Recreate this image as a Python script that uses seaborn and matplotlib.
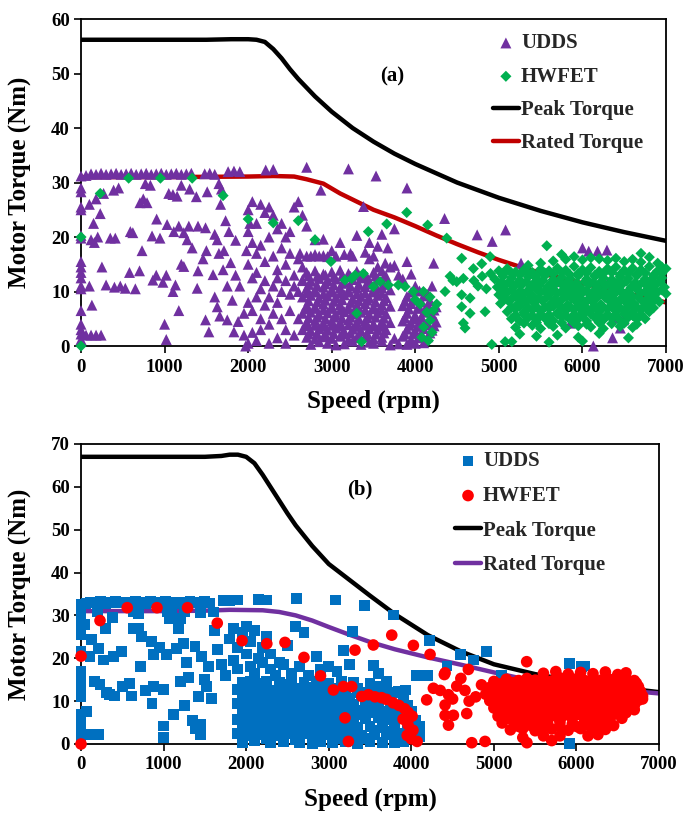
import matplotlib
matplotlib.use("Agg")
import matplotlib.pyplot as plt
import seaborn as sns
import pandas as pd

# ---------------------------------------------------------------- data
# (a) motor envelope curves
env_a_rpm = [0, 500, 1000, 1500, 1800, 2000, 2100, 2200, 2300, 2400, 2500, 2600, 2800,
             3000, 3250, 3500, 3750, 4000, 4500, 5000, 5500, 6000, 6500, 7000]
peak_a_nm = [56.2, 56.2, 56.2, 56.2, 56.3, 56.3, 56.2, 55.8, 54.5, 52.8, 50.8, 49.0, 45.8,
             43.0, 40.0, 37.5, 35.3, 33.4, 30.0, 27.2, 24.8, 22.7, 20.9, 19.3]
rated_a_rpm = [0, 1000, 2000, 2300, 2550, 2700, 2900, 3100, 3300, 3500, 3750, 4000, 4250,
               4500, 4750, 5000, 5300, 5600, 6000, 6500, 7000]
rated_a_nm = [31.0, 31.0, 31.1, 31.2, 31.1, 30.6, 29.8, 28.0, 26.5, 25.0, 23.6, 22.0, 20.3,
              18.7, 17.2, 15.8, 14.3, 13.0, 11.5, 9.8, 8.0]

# (b) motor envelope curves
peak_b_rpm = [0, 500, 1000, 1500, 1700, 1800, 1900, 2000, 2100, 2200, 2300, 2400, 2500,
              2600, 2800, 3000, 3250, 3500, 3800, 4200, 4600, 5000, 5500, 6000, 6500, 7000]
peak_b_nm = [67.0, 67.0, 67.0, 67.0, 67.2, 67.5, 67.5, 67.0, 65.5, 62.8, 59.8, 56.8, 53.8,
             51.0, 46.2, 42.0, 38.3, 34.6, 30.3, 25.4, 21.6, 18.6, 16.3, 14.6, 13.2, 12.1]
rated_b_rpm = [0, 1000, 1500, 1800, 2200, 2400, 2600, 2800, 3000, 3250, 3500, 3800, 4200,
               4600, 5000, 5400, 5800, 6400, 7000]
rated_b_nm = [31.0, 31.0, 31.1, 31.3, 31.2, 30.8, 30.0, 28.8, 27.3, 25.5, 23.8, 22.1, 20.2,
              18.5, 16.7, 15.0, 13.9, 12.8, 11.8]

# (a) UDDS operating points (rpm, Nm)
udds_a = [
    (0, 31.2), (0, 29.0), (0, 28.3), (0, 25.5), (0, 25.0), (0, 20.3), (0, 19.8), (0, 15.5),
    (0, 14.5), (0, 13.5), (0, 12.5), (0, 11.0), (0, 10.5), (0, 6.5), (0, 4.0), (0, 3.0),
    (0, 2.2), (0, 1.2),
    (60, 31.3), (120, 31.6), (180, 31.5), (240, 31.7), (300, 31.5), (360, 31.6), (420, 31.7),
    (480, 31.5), (540, 31.6), (600, 31.7), (660, 31.5), (720, 31.6), (780, 31.7), (840, 31.5),
    (900, 31.6), (960, 31.7), (1020, 31.5), (1080, 31.6), (1140, 31.7), (1200, 31.5),
    (1260, 31.6), (1320, 31.7), (1480, 31.6), (1540, 31.7), (1600, 31.5), (1760, 32.0),
    (1830, 32.1), (1900, 32.0), (2210, 32.3), (2300, 32.4), (2700, 32.8), (3200, 32.5),
    (3530, 31.2), (3900, 29.0), (2870, 28.6), (3380, 25.6),
    (100, 26.0), (180, 27.0), (270, 28.0), (390, 28.6), (450, 29.0), (150, 22.5), (230, 24.3),
    (120, 19.5), (200, 20.0), (160, 19.0), (250, 14.5), (100, 11.0), (130, 7.5), (60, 2.0),
    (120, 2.0), (180, 2.0), (240, 2.0), (350, 19.8), (410, 19.8), (590, 21.0), (530, 10.6),
    (470, 11.0), (580, 13.5), (730, 17.5), (905, 23.3), (860, 12.1), (980, 11.7), (1000, 4.0),
    (1020, 1.2), (945, 19.8), (745, 27.0), (705, 26.3), (790, 26.3), (1030, 22.3), (1110, 21.0),
    (1170, 22.0), (1150, 27.5), (1290, 22.0), (1330, 18.0), (1230, 14.6), (1130, 11.2),
    (1170, 6.5), (1390, 10.6), (1510, 28.3), (1490, 21.7), (1630, 19.5), (1460, 16.0),
    (1580, 13.1), (1630, 7.2), (1490, 4.8), (1530, 2.6), (1670, 26.0), (1730, 23.0),
    (1770, 21.0), (1710, 17.5), (1790, 15.3), (1850, 19.4), (1850, 13.0), (1810, 8.4),
    (1750, 4.8), (1830, 2.6), (770, 29.8), (830, 29.5), (1200, 29.5), (1300, 28.8),
    (1100, 27.8), (1650, 29.8), (1680, 28.8), (1050, 28.0), (1380, 27.4), (620, 20.8),
    (850, 20.2), (1230, 20.8), (1400, 22.0), (900, 13.0), (1200, 15.0), (1500, 17.5),
    (1600, 20.5), (1650, 17.0), (1700, 14.0), (1750, 11.0), (1600, 9.0), (1660, 5.5),
    (1900, 11.0), (1950, 6.0), (1880, 4.5), (1950, 2.0), (2000, 0.5), (1970, 0.0), (300, 11.2),
    (400, 10.8), (650, 10.5), (700, 13.8), (1020, 13.0), (1100, 10.0), (1270, 19.5), (1400, 13.8),
    (2000, 25.0), (2050, 26.5), (2100, 22.5), (2150, 26.0), (2200, 24.5), (2250, 25.5),
    (2300, 24.0), (2350, 21.5), (2400, 22.5), (2450, 20.0), (2500, 21.0), (2550, 25.5),
    (2600, 26.5), (2650, 24.0), (2700, 22.0), (2620, 17.0), (2000, 21.0), (2050, 19.0),
    (2100, 17.0), (2150, 18.5), (2200, 15.5), (2250, 20.0), (2300, 16.5), (2350, 14.0),
    (2400, 18.0), (2450, 15.0), (2500, 17.0), (2550, 13.0), (2600, 16.0), (2650, 14.5),
    (2700, 16.5), (2000, 15.0), (2050, 12.5), (2100, 13.5), (2150, 10.5), (2200, 12.0),
    (2250, 9.0), (2300, 11.0), (2350, 12.5), (2400, 10.0), (2450, 12.0), (2500, 9.5),
    (2550, 11.0), (2600, 10.0), (2650, 12.0), (2000, 8.0), (2050, 6.5), (2100, 9.0),
    (2150, 5.0), (2200, 7.5), (2250, 4.0), (2300, 6.0), (2350, 8.0), (2400, 5.0), (2450, 3.0),
    (2500, 6.5), (2550, 2.0), (2600, 5.0), (2050, 2.5), (2100, 1.0), (2150, 3.0), (2250, 0.5),
    (2350, 1.5), (2450, 0.5), (1980, 17.5), (2020, 22.5),
    (2750, 16.5), (2800, 16.8), (2850, 16.5), (2900, 16.6), (2950, 16.4), (3050, 16.5),
    (3150, 16.8), (3250, 16.5), (3400, 17.2), (3500, 16.5), (2800, 19.5), (2900, 19.6),
    (3000, 17.5), (3100, 19.0), (3300, 20.3), (3450, 19.0), (3550, 18.3), (3600, 20.5),
    (3670, 18.0), (3700, 14.5), (3800, 13.0), (3900, 15.5), (3950, 13.2), (4000, 11.0),
    (3750, 21.5), (3225, 17.0), (3640, 15.2), (4220, 15.2), (4350, 23.4), (4740, 20.4),
    (4920, 19.2), (5080, 21.3),
    (2700, 13.5), (2800, 13.8), (2900, 13.2), (3000, 13.6), (3100, 13.9), (3200, 13.3),
    (3300, 13.7), (3400, 13.1), (3500, 13.5), (3600, 13.8), (3650, 12.8),
    (2650, 12.2), (2750, 11.9), (2850, 12.4), (2950, 12.0), (3050, 12.3), (3150, 11.8),
    (3250, 12.2), (3350, 12.5), (3450, 11.9), (3550, 12.3),
    (2700, 10.6), (2800, 10.3), (2900, 10.8), (3000, 10.4), (3100, 10.7), (3200, 10.2),
    (3300, 10.6), (3400, 10.9), (3500, 10.4), (3600, 10.7), (3700, 10.3),
    (2650, 9.0), (2750, 9.3), (2850, 8.8), (2950, 9.2), (3050, 8.9), (3150, 9.4), (3250, 8.7),
    (3350, 9.1), (3450, 8.8), (3550, 9.3), (3650, 8.9), (3900, 9.1), (4000, 8.6), (4100, 9.2),
    (2700, 7.5), (2800, 7.2), (2900, 7.7), (3000, 7.3), (3100, 7.6), (3200, 7.1), (3300, 7.5),
    (3400, 7.8), (3500, 7.2), (3600, 7.6), (3700, 7.3), (3850, 7.4), (3950, 7.8), (4050, 7.1),
    (4150, 7.6), (4250, 7.2),
    (2650, 6.0), (2750, 6.2), (2850, 5.8), (2950, 6.1), (3050, 5.7), (3150, 6.3), (3250, 5.9),
    (3350, 6.2), (3450, 5.8), (3550, 6.1), (3650, 5.9), (3900, 6.0), (4000, 5.6), (4100, 6.2),
    (4200, 5.8),
    (2700, 4.4), (2800, 4.7), (2900, 4.2), (3000, 4.6), (3100, 4.3), (3200, 4.8), (3300, 4.4),
    (3400, 4.6), (3500, 4.1), (3600, 4.5), (3700, 4.3), (3850, 4.6), (3950, 4.2), (4050, 4.5),
    (4150, 4.1), (4250, 4.4),
    (2650, 3.0), (2750, 2.8), (2850, 3.2), (2950, 2.9), (3050, 3.3), (3150, 2.7), (3250, 3.1),
    (3350, 2.8), (3450, 3.2), (3550, 2.9), (3650, 3.0), (3900, 3.1), (4000, 2.7), (4100, 3.2),
    (4200, 2.9),
    (2700, 1.6), (2800, 1.3), (2900, 1.7), (3000, 1.4), (3100, 1.8), (3200, 1.2), (3300, 1.5),
    (3400, 1.7), (3500, 1.3), (3600, 1.6), (3750, 1.4), (3850, 1.8), (3950, 1.2), (4050, 1.5),
    (4150, 1.7),
    (2750, 0.3), (2950, 0.5), (3050, 0.2), (3150, 0.4), (3350, 0.3), (3500, 0.5), (3700, 0.2),
    (3800, 0.4), (3900, 0.3), (4000, 0.5),
    (2725, 12.9), (2825, 12.8), (2925, 13.0), (3025, 12.7), (3125, 12.9), (3225, 12.8),
    (3325, 13.0), (3425, 12.6), (3525, 12.9), (3625, 12.7),
    (2725, 11.3), (2825, 11.1), (2925, 11.4), (3025, 11.2), (3125, 11.5), (3225, 11.0),
    (3325, 11.3), (3425, 11.4), (3525, 11.1), (3625, 11.3),
    (2700, 9.8), (2800, 9.9), (2900, 9.6), (3000, 9.9), (3100, 9.7), (3200, 9.9), (3300, 9.6),
    (3400, 9.8), (3500, 9.9), (3600, 9.7), (3950, 9.9), (4050, 10.1),
    (2725, 8.3), (2825, 8.1), (2925, 8.4), (3025, 8.2), (3125, 8.5), (3225, 8.0), (3325, 8.3),
    (3425, 8.4), (3525, 8.1), (3625, 8.3), (3875, 8.2), (3975, 8.4), (4075, 8.1), (4175, 8.3),
    (2700, 6.8), (2800, 6.9), (2900, 6.7), (3000, 6.9), (3100, 6.6), (3200, 6.8), (3300, 6.9),
    (3400, 6.7), (3500, 6.8), (3600, 6.6), (3925, 6.8), (4025, 6.9), (4125, 6.7), (4225, 6.6),
    (2725, 5.2), (2825, 5.3), (2925, 5.0), (3025, 5.3), (3125, 5.1), (3225, 5.3), (3325, 5.0),
    (3425, 5.2), (3525, 5.3), (3625, 5.1), (3875, 5.2), (3975, 5.0), (4075, 5.3), (4175, 5.1),
    (2700, 3.7), (2800, 3.8), (2900, 3.6), (3000, 3.8), (3100, 3.7), (3200, 3.9), (3300, 3.6),
    (3400, 3.8), (3500, 3.7), (3600, 3.6), (3925, 3.8), (4025, 3.6), (4125, 3.9), (4225, 3.7),
    (2725, 2.2), (2825, 2.3), (2925, 2.1), (3025, 2.3), (3125, 2.2), (3225, 2.4), (3325, 2.1),
    (3425, 2.3), (3525, 2.2), (3625, 2.4), (3875, 2.2), (3975, 2.3), (4075, 2.1), (4175, 2.4),
    (2850, 0.8), (3250, 0.9), (3450, 0.7), (3600, 0.9), (3950, 0.8), (4100, 0.6),
    (3550, 14.5), (3750, 14.8), (3850, 12.3), (4150, 9.5), (4200, 11.0), (3450, 16.0),
    (5265, 15.2), (6000, 18.0), (6075, 17.4), (6180, 17.4), (6293, 17.6), (5735, 11.8),
    (6050, 10.3), (5945, 9.1), (6410, 5.2), (6465, 4.6), (6360, 1.5), (6130, 0.0),
    (6254, 10.6), (5854, 4.2), (6453, 3.3), (6493, 4.8), (5600, 11.0), (6300, 11.5),
]

# (a) HWFET operating points (rpm, Nm)
hwfet_a = [
    (0, 20.0), (0, 0.0), (230, 28.0), (570, 30.8), (950, 30.8), (1330, 30.8), (1700, 27.6),
    (2000, 23.3), (2300, 22.6), (2600, 23.0), (2800, 19.5), (3438, 21.0), (3658, 22.4),
    (3897, 24.5), (4148, 22.2), (4376, 19.8), (4895, 16.4), (5573, 18.4),
    (2990, 15.5), (3159, 12.1), (3239, 12.4), (3279, 13.0), (3378, 13.3), (3498, 10.9),
    (3578, 11.8), (3678, 11.2), (3797, 11.2), (3877, 10.9), (3977, 10.0), (3299, 6.0),
    (3358, 0.8), (4057, 7.7), (4137, 6.2), (4176, 4.7), (4216, 6.5), (4256, 7.7), (4097, 10.0),
    (4176, 9.0), (4077, 1.6), (4157, 1.0), (4000, 8.5), (4100, 3.5), (4200, 2.5),
    (4416, 12.8), (4495, 11.8), (4575, 12.4), (4356, 10.0), (4555, 9.4), (4655, 8.8),
    (4555, 7.2), (4655, 6.0), (4835, 6.3), (4575, 4.2), (4595, 3.3), (4915, 0.3), (5075, 0.8),
    (5155, 0.8), (4695, 14.2), (4795, 15.1), (4555, 16.1), (4700, 12.0), (4800, 12.8),
    (4900, 13.3), (4750, 11.0), (4850, 10.5), (4450, 12.0),
    (5350, 14.8), (5500, 15.2), (5650, 15.6), (5800, 15.9), (5900, 16.4), (6000, 15.8),
    (6100, 16.2), (6200, 16.0), (6300, 15.7), (6400, 16.1), (6500, 15.5), (6600, 15.9),
    (6700, 15.4), (6800, 16.3), (6900, 15.2), (6950, 14.5), (5750, 16.8), (6700, 17.0),
    (5000, 13.8), (5100, 14.2), (5200, 13.6), (5300, 14.0), (5400, 13.5), (5500, 14.1),
    (5600, 13.8), (5700, 14.3), (5800, 13.9), (5900, 14.6), (6000, 14.0), (6100, 14.4),
    (6200, 13.7), (6300, 14.2), (6400, 14.5), (6500, 13.9), (6600, 14.3), (6700, 14.0),
    (6800, 14.6), (6900, 13.8), (7000, 14.2),
    (4950, 12.3), (5050, 12.8), (5150, 12.5), (5250, 12.1), (5350, 12.7), (5450, 12.4),
    (5550, 12.9), (5650, 12.2), (5750, 12.6), (5850, 12.4), (5950, 12.9), (6050, 12.3),
    (6150, 12.8), (6250, 12.5), (6350, 12.2), (6450, 12.7), (6550, 12.4), (6650, 12.9),
    (6750, 12.3), (6850, 12.6), (6950, 12.5),
    (4980, 10.8), (5080, 11.2), (5180, 10.9), (5280, 11.3), (5380, 10.7), (5480, 11.1),
    (5580, 10.8), (5680, 11.4), (5780, 10.9), (5880, 11.2), (5980, 10.6), (6080, 11.3),
    (6180, 10.8), (6280, 11.1), (6380, 10.9), (6480, 11.4), (6580, 10.7), (6680, 11.2),
    (6780, 10.9), (6880, 11.3), (6980, 10.8),
    (5000, 9.4), (5100, 9.8), (5200, 9.2), (5300, 9.6), (5400, 9.3), (5500, 9.9), (5600, 9.4),
    (5700, 9.7), (5800, 9.1), (5900, 9.6), (6000, 9.8), (6100, 9.3), (6200, 9.7), (6300, 9.2),
    (6400, 9.8), (6500, 9.5), (6600, 9.1), (6700, 9.7), (6800, 9.4), (6900, 9.9), (7000, 9.6),
    (5020, 7.8), (5120, 8.2), (5220, 7.6), (5320, 8.1), (5420, 7.9), (5520, 8.3), (5620, 7.7),
    (5720, 8.0), (5820, 7.5), (5920, 8.2), (6020, 7.8), (6120, 8.1), (6220, 7.6), (6320, 8.3),
    (6420, 7.9), (6520, 8.0), (6620, 7.7), (6720, 8.2), (6820, 7.8), (6920, 8.1),
    (5100, 6.3), (5200, 6.8), (5300, 6.2), (5400, 6.6), (5500, 6.4), (5600, 6.9), (5700, 6.1),
    (5800, 6.5), (5900, 6.7), (6000, 6.2), (6100, 6.6), (6200, 6.3), (6300, 6.8), (6400, 6.4),
    (6500, 6.6), (6600, 6.1), (6700, 6.7), (6800, 6.3),
    (5150, 5.0), (5250, 4.6), (5350, 5.2), (5450, 4.8), (5550, 5.1), (5650, 4.7), (5750, 5.3),
    (5850, 4.9), (5950, 5.0), (6050, 4.6), (6150, 5.2), (6250, 4.8), (6350, 5.1), (6450, 4.7),
    (6550, 5.3), (6650, 4.9), (6750, 5.0),
    (5200, 3.4), (5400, 3.8), (5500, 3.2), (5650, 3.6), (5800, 3.3), (5950, 3.7), (6100, 3.5),
    (6250, 3.2), (6450, 3.6), (6600, 3.4),
    (5250, 2.2), (5450, 1.8), (5700, 2.0), (5950, 1.6), (6200, 2.3), (6550, 1.5), (5600, 0.7),
    (6000, 0.9),
    (5050, 13.2), (5150, 13.4), (5250, 13.1), (5350, 13.3), (5450, 13.0), (5550, 13.4),
    (5650, 13.2), (5750, 13.5), (5850, 13.1), (5950, 13.3), (6050, 13.4), (6150, 13.0),
    (6250, 13.3), (6350, 13.5), (6450, 13.1), (6550, 13.3), (6650, 13.2), (6750, 13.4),
    (6850, 13.0), (6950, 13.3),
    (5030, 11.7), (5130, 11.9), (5230, 11.6), (5330, 11.8), (5430, 11.7), (5530, 12.0),
    (5630, 11.6), (5730, 11.8), (5830, 11.9), (5930, 11.6), (6030, 11.8), (6130, 11.7),
    (6230, 11.9), (6330, 11.6), (6430, 11.8), (6530, 11.9), (6630, 11.6), (6730, 11.8),
    (6830, 11.7), (6930, 11.9),
    (5050, 10.2), (5150, 10.3), (5250, 10.0), (5350, 10.2), (5450, 10.4), (5550, 10.1),
    (5650, 10.3), (5750, 10.0), (5850, 10.2), (5950, 10.4), (6050, 10.1), (6150, 10.3),
    (6250, 10.0), (6350, 10.2), (6450, 10.3), (6550, 10.1), (6650, 10.4), (6750, 10.0),
    (6850, 10.2), (6950, 10.3),
    (5070, 8.7), (5170, 8.9), (5270, 8.6), (5370, 8.8), (5470, 8.7), (5570, 8.9), (5670, 8.6),
    (5770, 8.8), (5870, 8.7), (5970, 8.9), (6070, 8.6), (6170, 8.8), (6270, 8.9), (6370, 8.6),
    (6470, 8.8), (6570, 8.7), (6670, 8.9), (6770, 8.6), (6870, 8.8),
    (5150, 7.1), (5250, 7.3), (5350, 7.0), (5450, 7.2), (5550, 7.1), (5650, 7.3), (5750, 7.0),
    (5850, 7.2), (5950, 7.3), (6050, 7.0), (6150, 7.2), (6250, 7.1), (6350, 7.3), (6450, 7.0),
    (6550, 7.2), (6650, 7.1), (6750, 7.3), (6850, 7.0),
    (5200, 5.7), (5300, 5.8), (5400, 5.6), (5500, 5.8), (5600, 5.7), (5700, 5.9), (5800, 5.6),
    (5900, 5.8), (6000, 5.7), (6100, 5.9), (6200, 5.6), (6300, 5.8), (6400, 5.7), (6500, 5.9),
    (6600, 5.6), (6700, 5.8),
    (5300, 4.2), (5450, 4.3), (5600, 4.1), (5750, 4.3), (5900, 4.2), (6050, 4.0), (6200, 4.3),
    (6350, 4.1), (6500, 4.2), (6650, 4.0),
]

# (b) UDDS operating points (rpm, Nm)
udds_b = [
    (0, 32.5), (0, 30.0), (0, 27.8), (0, 25.5), (0, 21.5), (0, 17.0), (0, 15.5), (0, 14.0),
    (0, 12.0), (0, 11.0), (0, 7.0), (0, 4.5), (0, 3.0), (0, 1.5), (0, 0.5),
    (60, 32.8), (120, 33.1), (180, 32.9), (240, 33.2), (300, 32.8), (360, 33.0), (420, 33.3),
    (480, 32.9), (540, 33.1), (600, 32.8), (660, 33.2), (720, 33.0), (780, 32.8), (840, 33.2),
    (900, 33.0), (960, 32.9), (1020, 33.2), (1080, 33.0), (1140, 32.8), (1200, 33.1),
    (1260, 33.0), (1320, 33.2), (1380, 32.9), (1440, 33.1), (1500, 33.2), (1560, 32.9),
    (1720, 33.4), (1800, 33.5), (1900, 33.6), (2150, 33.7), (2250, 33.6), (2610, 34.0),
    (3080, 33.6), (3430, 32.4), (3780, 30.1),
    (200, 31.0), (640, 31.0), (700, 30.4), (1050, 31.0), (1100, 30.2), (1250, 31.0),
    (1450, 30.6), (1600, 30.8), (1200, 29.3), (48, 27.8), (129, 24.3), (109, 20.4), (210, 22.3),
    (270, 19.6), (390, 20.4), (490, 21.6), (715, 18.0), (590, 14.2), (735, 25.0), (855, 23.9),
    (955, 22.5), (1077, 29.3), (1180, 26.9), (1240, 23.5), (1160, 22.3), (1380, 22.7),
    (1460, 20.4), (1540, 18.0), (1520, 13.4), (1580, 10.7), (1200, 14.6), (997, 12.7),
    (875, 13.5), (350, 11.6), (410, 11.2), (310, 12.0), (610, 11.2), (1120, 6.9), (1000, 4.2),
    (1000, 1.5), (1390, 3.5), (1450, 2.3), (69, 7.6), (150, 2.3), (69, 2.3), (210, 2.3),
    (300, 27.0), (380, 29.5), (630, 27.0), (700, 27.0), (880, 20.8), (1030, 20.8),
    (1280, 19.0), (1300, 15.5), (1500, 15.0), (1620, 26.5), (1650, 22.0), (1700, 18.5),
    (1750, 16.0), (1420, 11.0), (1350, 5.5), (1450, 4.5), (160, 14.5), (230, 13.8),
    (500, 13.5), (780, 12.5), (860, 9.5), (1250, 9.0),
    (1800, 24.5), (1850, 27.0), (1900, 22.5), (1950, 26.0), (2000, 27.5), (2050, 24.0),
    (2100, 26.5), (2150, 20.0), (2200, 22.5), (2250, 25.0), (2300, 21.0), (2400, 19.0),
    (2500, 23.0), (2600, 27.5), (2700, 26.0), (2850, 20.5), (1850, 19.5), (1900, 17.5),
    (2000, 21.0), (2050, 18.0), (2100, 16.5), (2200, 19.0), (2300, 17.5), (2350, 16.0),
    (2450, 18.5), (2550, 16.5), (2650, 18.0), (2750, 16.0), (2900, 17.5), (3000, 18.0),
    (3100, 17.0), (3250, 18.5), (3293, 26.3), (3177, 21.9), (3540, 18.4), (3600, 16.5),
    (4220, 24.2), (4590, 20.9), (4909, 21.6), (4750, 19.6), (4432, 18.2), (4193, 15.9),
    (4065, 15.9), (3924, 12.6), (5914, 18.7), (6060, 18.0), (6100, 18.2), (5094, 15.9),
    (5920, 0.2), (6232, 7.2), (6322, 3.7), (5800, 10.0), (6000, 13.0),
    (1950, 14.3), (2050, 14.7), (2150, 14.2), (2250, 14.6), (2400, 14.4), (2550, 14.8),
    (2700, 14.3), (2850, 14.6), (3000, 14.2), (3150, 14.7), (3300, 14.4), (3500, 14.1),
    (3700, 14.5),
    (1900, 12.7), (2000, 13.1), (2100, 12.6), (2200, 12.9), (2300, 12.5), (2400, 13.0),
    (2500, 12.6), (2600, 12.9), (2700, 12.4), (2800, 13.1), (2900, 12.7), (3000, 12.4),
    (3100, 12.9), (3200, 12.6), (3350, 13.0), (3500, 12.5), (3650, 12.8), (3850, 12.3),
    (1950, 11.2), (2050, 10.8), (2150, 11.3), (2250, 10.9), (2350, 11.1), (2450, 10.7),
    (2550, 11.3), (2650, 10.8), (2750, 11.2), (2850, 10.9), (2950, 11.4), (3050, 10.8),
    (3150, 11.1), (3250, 10.7), (3400, 11.2), (3550, 10.9), (3700, 11.3), (3900, 10.8),
    (1900, 9.4), (2000, 9.0), (2100, 9.5), (2200, 9.1), (2300, 9.4), (2400, 9.0), (2500, 9.6),
    (2600, 9.2), (2700, 9.5), (2800, 9.1), (2900, 9.3), (3000, 9.6), (3100, 9.0), (3200, 9.4),
    (3300, 9.2), (3450, 9.5), (3600, 9.0), (3750, 9.3), (3950, 9.1),
    (1950, 7.6), (2050, 7.2), (2150, 7.7), (2250, 7.3), (2350, 7.6), (2450, 7.1), (2550, 7.5),
    (2650, 7.8), (2750, 7.2), (2850, 7.6), (2950, 7.3), (3050, 7.7), (3150, 7.2), (3250, 7.5),
    (3350, 7.8), (3500, 7.3), (3650, 7.6), (3800, 7.2), (4000, 7.5),
    (1900, 5.7), (2000, 6.1), (2100, 5.6), (2200, 6.0), (2300, 5.8), (2400, 6.2), (2500, 5.7),
    (2600, 6.0), (2700, 5.6), (2800, 6.1), (2900, 5.8), (3000, 6.2), (3100, 5.7), (3200, 6.0),
    (3300, 5.5), (3450, 5.9), (3600, 6.1), (3750, 5.7), (3900, 6.0), (4050, 5.6),
    (1950, 4.1), (2050, 3.8), (2150, 4.2), (2250, 3.9), (2350, 4.3), (2450, 3.8), (2550, 4.0),
    (2650, 4.3), (2750, 3.9), (2850, 4.2), (2950, 3.7), (3050, 4.1), (3150, 3.9), (3250, 4.3),
    (3350, 3.8), (3500, 4.1), (3650, 3.9), (3800, 4.2), (3950, 3.8), (4100, 4.0),
    (1900, 2.4), (2000, 2.0), (2100, 2.5), (2200, 2.1), (2300, 2.3), (2400, 1.9), (2500, 2.4),
    (2600, 2.2), (2700, 2.5), (2800, 2.0), (2900, 2.3), (3000, 2.1), (3100, 2.5), (3200, 2.2),
    (3300, 2.4), (3400, 2.0), (3550, 2.3), (3700, 2.1), (3850, 2.4), (4000, 2.2), (4100, 1.8),
    (1950, 0.4), (2100, 0.7), (2300, 0.3), (2450, 0.6), (2650, 0.4), (2800, 0.2), (2900, 0.6),
    (3050, 0.3), (3200, 0.5), (3350, 0.2), (3500, 0.6), (3650, 0.4), (3800, 0.3), (3900, 0.5),
    (3375, 12.0), (3475, 10.0), (3575, 8.4), (3700, 6.6), (3800, 4.9), (3550, 3.1),
    (3750, 3.0), (3900, 1.2), (3450, 1.3), (3600, 13.4), (3775, 12.0), (3850, 8.2),
    (3950, 6.8), (3650, 5.0), (3400, 6.8), (2250, 1.2), (2600, 1.1), (3100, 1.3),
    (2050, 13.8), (2450, 13.8), (2950, 13.6),
]

# (b) HWFET operating points (rpm, Nm)
hwfet_b = [
    (0, 20.5), (0, 0.0), (230, 28.8), (560, 31.8), (920, 31.8), (1290, 31.8), (1650, 28.2),
    (1950, 24.1), (2250, 23.4), (2470, 23.7), (2700, 20.2), (2900, 15.9), (3318, 21.9),
    (3540, 23.1), (3763, 25.4), (4025, 23.0), (4227, 20.9), (4409, 16.6), (4691, 17.4),
    (5397, 19.2),
    (3056, 12.6), (3177, 13.4), (3278, 13.4), (3400, 11.1), (3480, 11.5), (3560, 11.0),
    (3640, 10.8), (3700, 10.4), (3780, 9.6), (3850, 9.0), (3920, 8.2), (3960, 7.4), (4010, 6.5),
    (3900, 5.8), (3960, 4.5), (4020, 3.2), (3950, 2.0), (4000, 1.2), (4070, 0.6), (3197, 6.1),
    (3238, 0.6), (4186, 10.3), (4267, 13.0), (4350, 12.5), (4409, 9.1), (4409, 6.7),
    (4450, 4.4), (4510, 6.7), (4400, 16.2), (4600, 15.3), (4550, 13.5), (4650, 12.5),
    (4671, 7.1), (4732, 0.3), (4893, 0.6), (4780, 11.0), (4850, 13.8), (4700, 10.0),
    (4450, 11.5), (4500, 10.5),
    (5600, 16.5), (5750, 16.9), (5900, 16.3), (6050, 16.7), (6200, 16.4), (6350, 16.8),
    (6500, 16.2), (6600, 16.6),
    (5000, 14.6), (5150, 15.1), (5300, 14.8), (5400, 15.3), (5500, 14.9), (5600, 15.2),
    (5700, 14.7), (5800, 15.4), (5900, 14.9), (6000, 15.2), (6100, 14.8), (6200, 15.3),
    (6300, 14.9), (6400, 15.1), (6500, 14.7), (6600, 15.2), (6700, 14.8),
    (4950, 13.2), (5050, 13.6), (5150, 13.1), (5250, 13.5), (5350, 13.2), (5450, 13.7),
    (5550, 13.1), (5650, 13.4), (5750, 13.0), (5850, 13.6), (5950, 13.2), (6050, 13.5),
    (6150, 13.0), (6250, 13.6), (6350, 13.3), (6450, 13.1), (6550, 13.5), (6650, 13.2),
    (6750, 13.4),
    (4900, 11.6), (5000, 12.0), (5100, 11.5), (5200, 11.9), (5300, 11.4), (5400, 11.8),
    (5500, 11.6), (5600, 12.0), (5700, 11.5), (5800, 11.9), (5900, 11.3), (6000, 11.8),
    (6100, 11.6), (6200, 12.0), (6300, 11.5), (6400, 11.9), (6500, 11.4), (6600, 11.8),
    (6700, 11.6), (6800, 11.2),
    (4950, 10.1), (5050, 9.7), (5150, 10.2), (5250, 9.8), (5350, 10.0), (5450, 9.6),
    (5550, 10.3), (5650, 9.9), (5750, 10.1), (5850, 9.7), (5950, 10.2), (6050, 9.8),
    (6150, 10.0), (6250, 9.6), (6350, 10.3), (6450, 9.9), (6550, 10.1), (6650, 9.7),
    (6750, 10.2),
    (5000, 8.4), (5100, 8.0), (5200, 8.5), (5300, 8.1), (5400, 8.3), (5500, 7.9), (5600, 8.6),
    (5700, 8.2), (5800, 8.4), (5900, 8.0), (6000, 8.5), (6100, 8.1), (6200, 8.3), (6300, 7.9),
    (6400, 8.4), (6500, 8.2), (6600, 8.6), (6700, 8.0),
    (5050, 6.5), (5150, 6.9), (5250, 6.4), (5350, 6.8), (5450, 6.6), (5550, 6.3), (5650, 6.9),
    (5750, 6.5), (5850, 6.7), (5950, 6.2), (6050, 6.8), (6150, 6.5), (6250, 6.7), (6350, 6.3),
    (6450, 6.9), (6550, 6.6),
    (5100, 4.9), (5250, 5.2), (5400, 4.8), (5500, 5.3), (5650, 4.9), (5800, 5.1), (5950, 4.7),
    (6100, 5.2), (6250, 4.9), (6400, 5.1),
    (5200, 3.3), (5350, 3.6), (5500, 3.1), (5700, 3.5), (5900, 3.2), (6050, 3.6), (6200, 3.0),
    (6350, 3.4),
    (5350, 1.5), (5400, 0.3), (5600, 1.9), (5800, 1.9), (6140, 1.9), (6260, 2.2), (5700, 0.8),
    (5075, 14.0), (5225, 14.3), (5375, 14.1), (5525, 14.4), (5675, 14.0), (5825, 14.3),
    (5975, 14.1), (6125, 14.4), (6275, 14.0), (6425, 14.3), (6575, 14.1), (6725, 14.2),
    (5025, 12.5), (5175, 12.8), (5325, 12.4), (5475, 12.7), (5625, 12.5), (5775, 12.8),
    (5925, 12.4), (6075, 12.7), (6225, 12.5), (6375, 12.8), (6525, 12.4), (6675, 12.7),
    (6775, 12.3),
    (5000, 10.9), (5150, 10.7), (5300, 11.0), (5450, 10.8), (5600, 10.9), (5750, 10.6),
    (5900, 11.0), (6050, 10.8), (6200, 10.9), (6350, 10.7), (6500, 11.0), (6650, 10.8),
    (6800, 10.5),
    (5050, 9.1), (5200, 9.2), (5350, 8.9), (5500, 9.2), (5650, 9.0), (5800, 9.3), (5950, 8.9),
    (6100, 9.1), (6250, 9.2), (6400, 9.0), (6550, 9.1), (6700, 9.0),
    (5100, 7.4), (5250, 7.6), (5400, 7.3), (5550, 7.5), (5700, 7.4), (5850, 7.6), (6000, 7.3),
    (6150, 7.5), (6300, 7.4), (6450, 7.6), (6600, 7.3),
    (5200, 5.8), (5350, 6.0), (5500, 5.7), (5650, 5.9), (5800, 5.8), (5950, 6.0), (6100, 5.7),
    (6250, 5.9), (6400, 5.8), (6550, 6.0),
    (5300, 4.1), (5450, 4.3), (5600, 4.0), (5800, 4.2), (6000, 4.1), (6150, 4.3), (6300, 4.0),
    (6450, 4.3),
]

# ---------------------------------------------------------------- style
sns.set_theme(style="ticks")
plt.rcParams["font.family"] = ["Liberation Serif", "DejaVu Serif"]
plt.rcParams["font.weight"] = "bold"
plt.rcParams["axes.labelweight"] = "bold"

fig = plt.figure(figsize=(6.86, 8.14), dpi=100)
ax_a = fig.add_axes([0.1181, 0.5749, 0.8528, 0.4017])
ax_b = fig.add_axes([0.1181, 0.0860, 0.8426, 0.3686])


def as_frame(points):
    return pd.DataFrame(points, columns=["rpm", "nm"])


def panel(ax, cycle1, cycle2, styles, peak, rated, ymax, tag, tag_xy, leg_anchor,
          leg_spacing, ylab_x, xlab_y):
    (m1, c1, s1), (m2, c2, s2), (peak_col, rated_col) = styles
    sns.lineplot(x=peak[0], y=peak[1], ax=ax, color=peak_col, linewidth=3.2,
                 label="Peak Torque", sort=False, estimator=None, zorder=2)
    sns.lineplot(x=rated[0], y=rated[1], ax=ax, color=rated_col, linewidth=3.2,
                 label="Rated Torque", sort=False, estimator=None, zorder=2)
    sns.scatterplot(data=as_frame(cycle1), x="rpm", y="nm", ax=ax, marker=m1, color=c1,
                    s=s1, edgecolor="none", linewidth=0, label="UDDS", clip_on=False, zorder=3)
    sns.scatterplot(data=as_frame(cycle2), x="rpm", y="nm", ax=ax, marker=m2, color=c2,
                    s=s2, edgecolor="none", linewidth=0, label="HWFET", clip_on=False, zorder=4)

    ax.set_xlim(0, 7000)
    ax.set_ylim(0, ymax)
    ax.set_xticks(range(0, 7001, 1000))
    ax.set_yticks(range(0, ymax + 1, 10))
    ax.tick_params(axis="both", direction="out", length=5, width=1.2, labelsize=13.5,
                   colors="black", top=False, right=False)
    ax.tick_params(axis="x", pad=4)
    ax.tick_params(axis="y", pad=3)
    for sp in ax.spines.values():
        sp.set_visible(True)
        sp.set_color("black")
        sp.set_linewidth(1.3)

    ax.set_xlabel("Speed (rpm)", fontsize=18, fontweight="bold", color="black")
    ax.set_ylabel("Motor Torque (Nm)", fontsize=18, fontweight="bold", color="black")
    ax.xaxis.set_label_coords(0.5, xlab_y)
    ax.yaxis.set_label_coords(ylab_x, 0.5)

    ax.text(tag_xy[0], tag_xy[1], tag, ha="center", va="center", fontsize=15,
            fontweight="bold", color="black")

    handles, labels = ax.get_legend_handles_labels()
    order = [labels.index(k) for k in ["UDDS", "HWFET", "Peak Torque", "Rated Torque"]]
    ax.legend([handles[i] for i in order], [labels[i] for i in order],
              loc="upper left", bbox_to_anchor=leg_anchor, frameon=False,
              prop={"family": "Liberation Serif", "weight": "bold", "size": 15},
              handlelength=1.25, handletextpad=0.1, labelspacing=leg_spacing,
              borderpad=0, borderaxespad=0)


panel(ax_a, udds_a, hwfet_a,
      [("^", "#7030A0", 62), ("D", "#00B050", 32), ("black", "#C00000")],
      (env_a_rpm, peak_a_nm), (rated_a_rpm, rated_a_nm),
      60, "(a)", (3720, 49.4), (0.704, 0.956), 0.64, -0.084, -0.1346)

panel(ax_b, udds_b, hwfet_b,
      [("s", "#0070C0", 62), ("o", "#FF0000", 70), ("black", "#7030A0")],
      (peak_b_rpm, peak_b_nm), (rated_b_rpm, rated_b_nm),
      70, "(b)", (3380, 59.3), (0.647, 0.975), 0.7, -0.085, -0.145)

fig.savefig("out.png", dpi=100)
